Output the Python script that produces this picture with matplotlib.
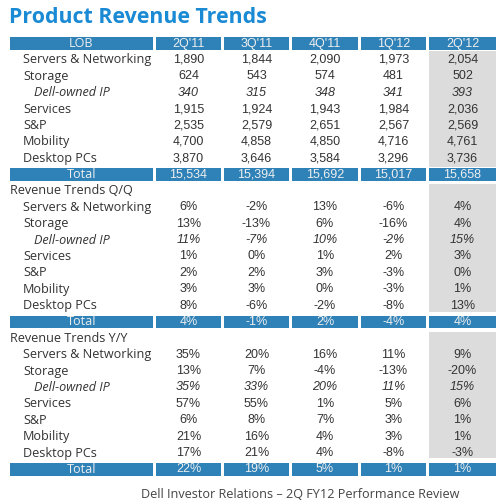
import matplotlib.pyplot as plt
from matplotlib.patches import Rectangle

quarters = ["2Q'11", "3Q'11", "4Q'11", "1Q'12", "2Q'12"]
lobs = ["Servers & Networking", "Storage", "Dell-owned IP", "Services", "S&P", "Mobility", "Desktop PCs"]

revenue = [
    [1890, 1844, 2090, 1973, 2054],
    [624, 543, 574, 481, 502],
    [340, 315, 348, 341, 393],
    [1915, 1924, 1943, 1984, 2036],
    [2535, 2579, 2651, 2567, 2569],
    [4700, 4858, 4850, 4716, 4761],
    [3870, 3646, 3584, 3296, 3736],
]
revenue_total = [15534, 15394, 15692, 15017, 15658]

qq = [
    [6, -2, 13, -6, 4],
    [13, -13, 6, -16, 4],
    [11, -7, 10, -2, 15],
    [1, 0, 1, 2, 3],
    [2, 2, 3, -3, 0],
    [3, 3, 0, -3, 1],
    [8, -6, -2, -8, 13],
]
qq_total = [4, -1, 2, -4, 4]

yy = [
    [35, 20, 16, 11, 9],
    [13, 7, -4, -13, -20],
    [35, 33, 20, 11, 15],
    [57, 55, 1, 5, 6],
    [6, 8, 7, 3, 1],
    [21, 16, 4, 3, 1],
    [17, 21, 4, -8, -3],
]
yy_total = [22, 19, 5, 1, 1]

blue = '#2f82b8'
title_blue = '#1a8ad4'
txt = '#333333'
gray = '#dcdcdc'

fig = plt.figure(figsize=(5, 5.03), dpi=100)
ax = fig.add_axes([0, 0, 1, 1])
ax.set_xlim(0, 500)
ax.set_ylim(503, 0)
ax.axis('off')

ax.text(9, 17, 'Product Revenue Trends', color=title_blue, fontsize=15.4,
        fontweight='bold', family='Open Sans', va='center', ha='left')

lob_x = (10, 153)
col_x = [(156, 221), (224, 289), (292, 358), (361, 426), (429, 496)]
num_font = 'Liberation Sans'
lab_font = 'Open Sans'
fs = 9
lfs = 9.1


def yc(i):
    return 43.5 + 16.38 * i


def bar_row(i, label, vals):
    y = yc(i)
    h = 12.5
    ax.add_patch(Rectangle((lob_x[0], y - h / 2), lob_x[1] - lob_x[0], h, color=blue, lw=0))
    ax.text(sum(lob_x) / 2, y, label, color='#eeeeee', fontsize=lfs, family=lab_font,
            ha='center', va='center')
    for (x0, x1), v in zip(col_x, vals):
        ax.add_patch(Rectangle((x0, y - h / 2), x1 - x0, h, color=blue, lw=0))
        ax.text((x0 + x1) / 2, y, v, color='#eeeeee', fontsize=fs, family=num_font,
                ha='center', va='center')


def body(i0, data, fmt):
    for k, (name, vals) in enumerate(zip(lobs, data)):
        y = yc(i0 + k)
        italic = name == 'Dell-owned IP'
        ax.text(34 if italic else 23, y, name, color=txt, fontsize=lfs, family=lab_font,
                style='italic' if italic else 'normal', ha='left', va='center')
        for (x0, x1), v in zip(col_x, vals):
            ax.text((x0 + x1) / 2, y, fmt(v), color=txt, fontsize=fs, family=num_font,
                    style='italic' if italic else 'normal', ha='center', va='center')


# gray shading of latest quarter
gx0, gx1 = col_x[-1]
for top, bot in [(yc(0) + 7, yc(8) - 7.5), (yc(8) + 9, yc(17) - 10), (yc(17) + 10, yc(26) - 11.5)]:
    ax.add_patch(Rectangle((gx0, top), gx1 - gx0, bot - top, color=gray, lw=0))

bar_row(0, 'LOB', quarters)
body(1, revenue, lambda v: f'{v:,}')
bar_row(8, 'Total', [f'{v:,}' for v in revenue_total])

ax.text(10, yc(9), 'Revenue Trends Q/Q', color=txt, fontsize=lfs, family=lab_font, va='center')
body(10, qq, lambda v: f'{v}%')
bar_row(17, 'Total', [f'{v}%' for v in qq_total])

ax.text(10, yc(18), 'Revenue Trends Y/Y', color=txt, fontsize=lfs, family=lab_font, va='center')
body(19, yy, lambda v: f'{v}%')
bar_row(26, 'Total', [f'{v}%' for v in yy_total])

ax.text(300, 494, 'Dell Investor Relations \u2013 2Q FY12 Performance Review', color='#444444',
        fontsize=lfs, family=lab_font, ha='center', va='center')

fig.savefig('out.png', dpi=100)
